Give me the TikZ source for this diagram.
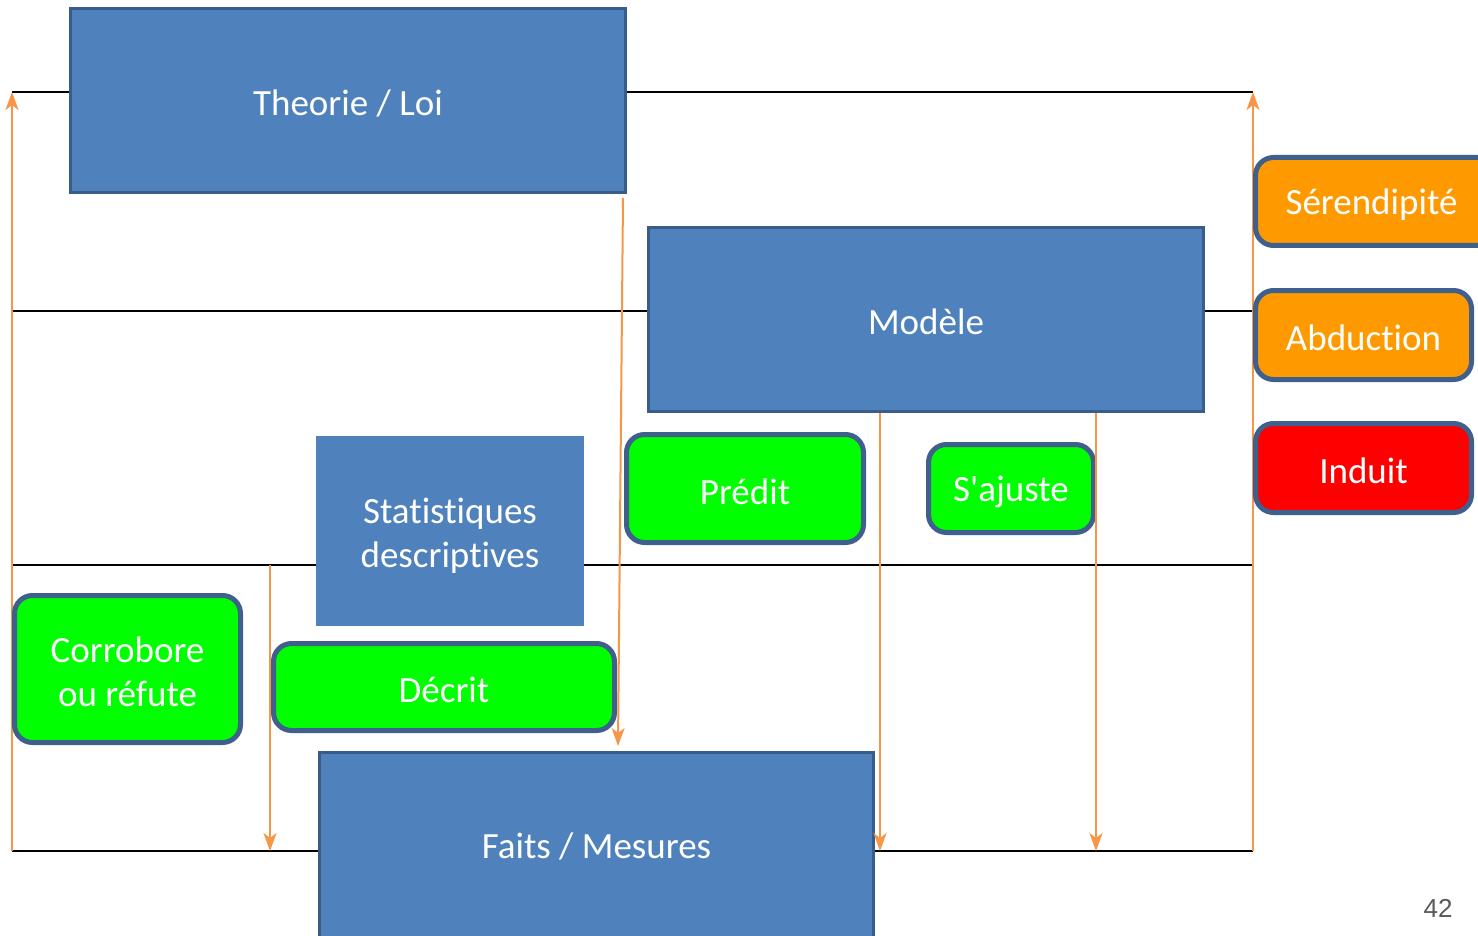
\documentclass[tikz,border=0pt]{standalone}
\usepackage{fontspec}
\setmainfont{Carlito}[Ligatures={NoCommon,TeXOff}]
\newfontfamily\pagenumfont{Liberation Sans}
\usetikzlibrary{arrows.meta}

\definecolor{boxblue}{HTML}{4F81BD}
\definecolor{boxedge}{HTML}{385D8A}
\definecolor{tagedge}{HTML}{3F5F8C}
\definecolor{tagorange}{HTML}{FF9900}
\definecolor{taggreen}{HTML}{00FF00}
\definecolor{tagred}{HTML}{FF0000}
\definecolor{flow}{HTML}{F79646}
\definecolor{pagegray}{HTML}{595959}

\tikzset{
  level/.style={draw=black, line width=2.5},
  flowarrow/.style={draw=flow, line width=2, -{Stealth[length=18, width=13, inset=5]}},
  txt/.style={text=white, font=\fontsize{37}{44}\selectfont, align=center},
  bigbox/.style={rectangle, fill=boxblue, draw=boxedge, line width=3, inner sep=0},
  plainbox/.style={rectangle, fill=boxblue, inner sep=0},
  tag/.style={rectangle, rounded corners=18, draw=tagedge, line width=5, inner sep=0},
  caption/.style={label={[txt, yshift=-3pt]center:#1}},
}

\begin{document}
\begin{tikzpicture}[x=1pt, y=-1pt]
  \useasboundingbox (0,0) rectangle (1478,936);
  \clip (0,0) rectangle (1478,936);

  % level lines
  \coordinate (l1a) at (12,92);   \coordinate (l1b) at (1253,92);
  \coordinate (l2a) at (12,311);  \coordinate (l2b) at (1253,311);
  \coordinate (l3a) at (12,565);  \coordinate (l3b) at (1253,565);
  \coordinate (l4a) at (12,851);  \coordinate (l4b) at (1253,851);
  \draw[level] (l1a) -- (l1b);
  \draw[level] (l2a) -- (l2b);
  \draw[level] (l3a) -- (l3b);
  \draw[level] (l4a) -- (l4b);

  % outer upward arrows
  \draw[flowarrow] (l4a) -- (l1a);
  \draw[flowarrow] (l4b) -- (l1b);

  % main blue boxes
  \node[bigbox, minimum width=555, minimum height=184] (theorie) at (348,100.5) {};
  \node[txt] (theorietxt) at (348,103) {Theorie / Loi};
  \node[bigbox, minimum width=555, minimum height=184] (modele) at (926,319.5) {};
  \node[txt] (modeletxt) at (926,322) {Modèle};
  \node[plainbox, minimum width=268, minimum height=190] (stats) at (450,531) {};
  \node[txt] (statstxt) at (450,536) {Statistiques\\descriptives};
  \node[bigbox, minimum width=554, minimum height=220, anchor=north] (faits) at (596.5,750.5) {};
  \node[txt] (faitstxt) at (596.5,846) {Faits / Mesures};

  % coloured tags
  \node[tag, fill=taggreen, minimum width=237, minimum height=108, caption=Prédit] (predit) at (745,488.5) {};
  \node[tag, fill=taggreen, minimum width=165, minimum height=88, caption={S'ajuste}] (ajuste) at (1011,488.5) {};
  \node[tag, fill=taggreen, minimum width=226, minimum height=147, caption={Corrobore\\ou réfute}] (corrobore) at (127.5,669) {};
  \node[tag, fill=taggreen, minimum width=341, minimum height=87, caption=Décrit] (decrit) at (444,687) {};
  \node[tag, fill=tagorange, minimum width=240, minimum height=88] (seren) at (1375.5,201.5) {};
  \node[txt] (serentxt) at (1371.5,204.5) {Sérendipité};
  \node[tag, fill=tagorange, minimum width=216, minimum height=89, caption=Abduction] (abduc) at (1363.5,335) {};
  \node[tag, fill=tagred, minimum width=216, minimum height=89, caption=Induit] (induit) at (1363.5,468) {};

  % downward arrows
  \coordinate (d1a) at (270,565);  \coordinate (d1b) at (270,851);
  \coordinate (d2a) at (623,198);  \coordinate (d2b) at (618,746);
  \coordinate (d3a) at (880,413);  \coordinate (d3b) at (880,851);
  \coordinate (d4a) at (1096,413); \coordinate (d4b) at (1096,851);
  \draw[flowarrow] (d1a) -- (d1b);
  \draw[flowarrow] (d2a) -- (d2b);
  \draw[flowarrow] (d3a) -- (d3b);
  \draw[flowarrow] (d4a) -- (d4b);

  % page number
  \node[text=pagegray, font=\pagenumfont\fontsize{26}{30}\selectfont] (pagenum) at (1438,908) {42};
\end{tikzpicture}
\end{document}
